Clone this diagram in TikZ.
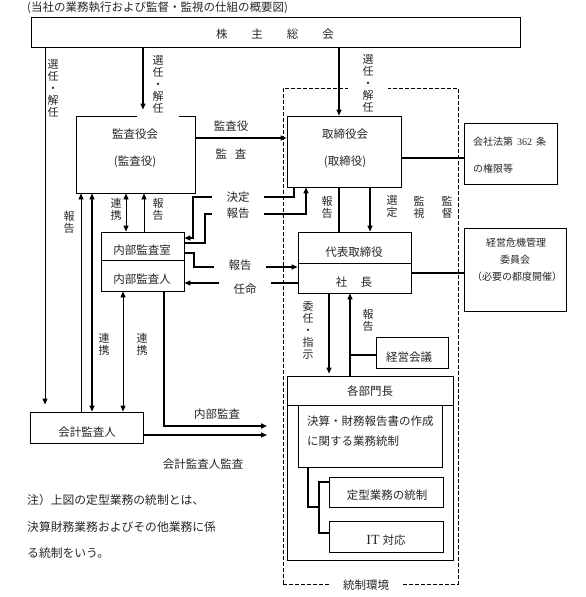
\documentclass[tikz,border=0pt]{standalone}
\usepackage{fontspec}
\setmainfont{Noto Sans CJK JP}
\newfontfamily\tms{Liberation Serif}
\usetikzlibrary{arrows.meta}
\begin{document}
\begin{tikzpicture}[x=1pt,y=-1pt,
  box/.style={draw,line width=0.9pt,inner sep=0pt},
  txt/.style={inner sep=0pt,text=black!85,font=\fontsize{11.5}{13}\selectfont},
  sm/.style={inner sep=0pt,text=black!85,font=\fontsize{10}{12}\selectfont},
  vlab/.style={inner sep=0pt,text=black!85,align=center,font=\fontsize{11}{12}\selectfont},
  gapbox/.style={fill=white,minimum width=52pt,minimum height=13pt},
  ln/.style={line width=0.9pt},
  med/.style={line width=1.3pt},
  thk/.style={line width=1.8pt},
  tip/.style={-{Triangle[length=6pt,width=5pt]}},
  dtip/.style={{Triangle[length=6pt,width=5pt]}-{Triangle[length=6pt,width=5pt]}},
  dashbox/.style={draw,line width=0.8pt,dash pattern=on 4pt off 2pt,inner sep=0pt}
]
\useasboundingbox (0,0) rectangle (586,597);

% title
\node[txt,anchor=west] (title) at (27,8) {(当社の業務執行および監督・監視の仕組の概要図)};

% control environment (dashed)
\node[dashbox,minimum width=175pt,minimum height=496pt] (ctrl) at (370.5,336) {};

% boxes
\node[box,minimum width=489pt,minimum height=30pt] (kabu) at (275.5,32) {};
\node[txt] (kabut) at (275,34) {株\hspace{24pt}主\hspace{24pt}総\hspace{24pt}会};

\node[box,minimum width=119pt,minimum height=77pt] (kansa) at (135.5,154.5) {};
\node[txt] (kansat1) at (135,134) {監査役会};
\node[txt] (kansat2) at (135,162) {(監査役)};

\node[box,minimum width=114pt,minimum height=71pt] (tori) at (344,151.5) {};
\node[txt] (torit1) at (345,134) {取締役会};
\node[txt] (torit2) at (345,162) {(取締役)};

\node[box,minimum width=93pt,minimum height=61pt] (kaisha) at (510.5,153.5) {};
\node[sm,anchor=west] (kaishat1) at (473,142) {会社法第\hspace{4pt}{\tms 362}\hspace{4pt}条};
\node[sm,anchor=west] (kaishat2) at (473,169) {の権限等};

\node[box,minimum width=113pt,minimum height=61pt] (daihyo) at (354.5,262.5) {};
\draw[line width=0.9pt] (daihyo.west |- 0,263) -- (daihyo.east |- 0,263);
\node[txt] (daihyot1) at (354,252) {代表取締役};
\node[txt] (daihyot2) at (354,282) {社\hspace{13.5pt}長};

\node[box,minimum width=102pt,minimum height=83pt] (kiki) at (515,269.5) {};
\node[sm] (kikit1) at (516,243) {経営危機管理};
\node[sm] (kikit2) at (515,260) {委員会};
\node[sm] (kikit3) at (517,277) {（必要の都度開催）};

\node[box,minimum width=83pt,minimum height=59pt] (naibu) at (142.5,261.5) {};
\draw[line width=0.9pt] (naibu.west |- 0,260) -- (naibu.east |- 0,260);
\node[txt] (naibut1) at (142,250) {内部監査室};
\node[txt] (naibut2) at (142,279) {内部監査人};

\node[box,minimum width=72pt,minimum height=31pt] (keiei) at (412,352.5) {};
\node[txt] (keieit) at (409,357) {経営会議};

\node[box,minimum width=166pt,minimum height=184pt] (kakubu) at (370,468) {};
\draw[line width=0.9pt] (kakubu.west |- 0,405) -- (kakubu.east |- 0,405);
\node[txt] (kakubut) at (370,391) {各部門長};

\node[box,minimum width=144pt,minimum height=62pt] (kessan) at (370,436) {};
\node[txt,anchor=west] (kessant1) at (307,421) {決算・財務報告書の作成};
\node[txt,anchor=west] (kessant2) at (307,441) {に関する業務統制};

\node[box,minimum width=114pt,minimum height=30pt] (teikei) at (386,492) {};
\node[txt] (teikeit) at (387,495) {定型業務の統制};

\node[box,minimum width=114pt,minimum height=31pt] (it) at (386,536.5) {};
\node[txt] (itt) at (386,540) {{\tms\fontsize{14}{14}\selectfont IT}\hspace{3pt}対応};

\node[box,minimum width=113pt,minimum height=31pt] (kaikei) at (86.5,427.5) {};
\node[txt] (kaikeit) at (87,432) {会計監査人};

% labels that cut the box edges
\node[vlab,fill=white,minimum width=42pt,minimum height=68pt] (sel2) at (158,84) {選\\任\\・\\解\\任};
\node[vlab,fill=white,minimum width=40pt] (sel3) at (368,83) {選\\任\\・\\解\\任};
\node[txt,fill=white,minimum width=72pt,minimum height=14pt] (ctrlt) at (366,585) {統制環境};

% connectors from shareholders
\draw[ln,tip,shorten >=7pt] (kabu.south -| 45,0) -- (kaikei.north -| 45,0);
\node[vlab] (sel1) at (53,88) {選\\任\\・\\解\\任};
\draw[med,tip,shorten >=6pt] (kabu.south -| 143,0) -- (kansa.north -| 143,0);
\draw[med,tip] (kabu.south -| 339,0) -- (tori.north -| 339,0);

% audit board -> board
\draw[thk,tip] (kansa.east |- 0,138) -- (tori.west |- 0,138);
\node[txt] (kansayaku) at (231,126) {監査役};
\node[txt] (kansa2) at (231,154) {監\hspace{8pt}査};

\draw[thk] (tori.east |- 0,158) -- (kaisha.west |- 0,158);
\draw[med] (tori.south -| 339,0) -- (daihyo.north -| 339,0);
\draw[med,tip] (tori.south -| 370,0) -- (daihyo.north -| 370,0);
\node[vlab] (hk1) at (327,207) {報\\告};
\node[vlab] (sentei) at (392,206) {選\\定};
\node[vlab] (kanshi) at (419,207) {監\\視};
\node[vlab] (kantoku) at (447,207) {監\\督};
\draw[thk] (daihyo.east |- 0,273) -- (kiki.west |- 0,273);

% board <-> internal audit
\draw[thk,tip] (tori.south -| 294,0) |- (193,197) |- (naibu.east |- 0,238);
\draw[thk,tip] (naibu.east |- 0,243) -| (205,214) -| (tori.south -| 306,0);
\draw[thk,tip] (naibu.east |- 0,253) -| (194,267) -- (daihyo.west |- 0,267);
\draw[med,tip] (daihyo.west |- 0,283) -- (naibu.east |- 0,283);
\node[txt,gapbox] (kettei) at (238,197) {決定};
\node[txt,gapbox] (hk2) at (238,213) {報告};
\node[txt,gapbox] (hk3) at (240,265) {報告};
\node[txt,gapbox,minimum height=16pt] (ninmei) at (245,289) {任命};

% audit board <-> internal audit / accounting auditor
\draw[ln,dtip] (naibu.north -| 126,0) -- (kansa.south -| 126,0);
\draw[ln,tip] (naibu.north -| 144,0) -- (kansa.south -| 144,0);
\node[vlab] (rk1) at (116,209) {連\\携};
\node[vlab] (hk4) at (158,209) {報\\告};
\draw[ln,tip] (kaikei.north -| 81,0) -- (kansa.south -| 81,0);
\draw[thk,dtip] (kaikei.north -| 92,0) -- (kansa.south -| 92,0);
\draw[ln,dtip] (naibu.south -| 123,0) -- (kaikei.north -| 123,0);
\node[vlab] (hk5) at (69,222) {報\\告};
\node[vlab] (rk2) at (104,344) {連\\携};
\node[vlab] (rk3) at (142,344) {連\\携};

% audits into the control environment
\coordinate (ia) at (267,426);
\coordinate (ea) at (267,435);
\draw[thk,tip] (naibu.south -| 164,0) |- (ia);
\draw[med,tip] (kaikei.east |- ea) -- (ea);
\node[txt] (iat) at (217,414) {内部監査};
\node[txt] (eat) at (203,464) {会計監査人監査};

% president <-> department heads
\draw[med,tip,shorten >=2pt] (daihyo.south -| 329,0) -- (kakubu.north -| 329,0);
\draw[med,tip] (kakubu.north -| 350,0) -- (daihyo.south -| 350,0);
\node[vlab] (inin) at (308,330) {委\\任\\・\\指\\示};
\node[vlab] (hk6) at (368,320) {報\\告};
\coordinate (kj) at (350,355);
\draw[thk] (keiei.west |- kj) -- (kj);

% tree inside department heads
\draw[thk] (kessan.south -| 308,0) |- (319,507);
\draw[thk] (teikei.west |- 0,482) -| (319,533) -- (it.west |- 0,533);

% note
\node[txt,font=\fontsize{11.8}{13}\selectfont,anchor=west] (note1) at (27,500) {注）上図の定型業務の統制とは、};
\node[txt,font=\fontsize{11.8}{13}\selectfont,anchor=west] (note2) at (27,527) {決算財務業務およびその他業務に係};
\node[txt,font=\fontsize{11.8}{13}\selectfont,anchor=west] (note3) at (27,553) {る統制をいう。};
\end{tikzpicture}
\end{document}
